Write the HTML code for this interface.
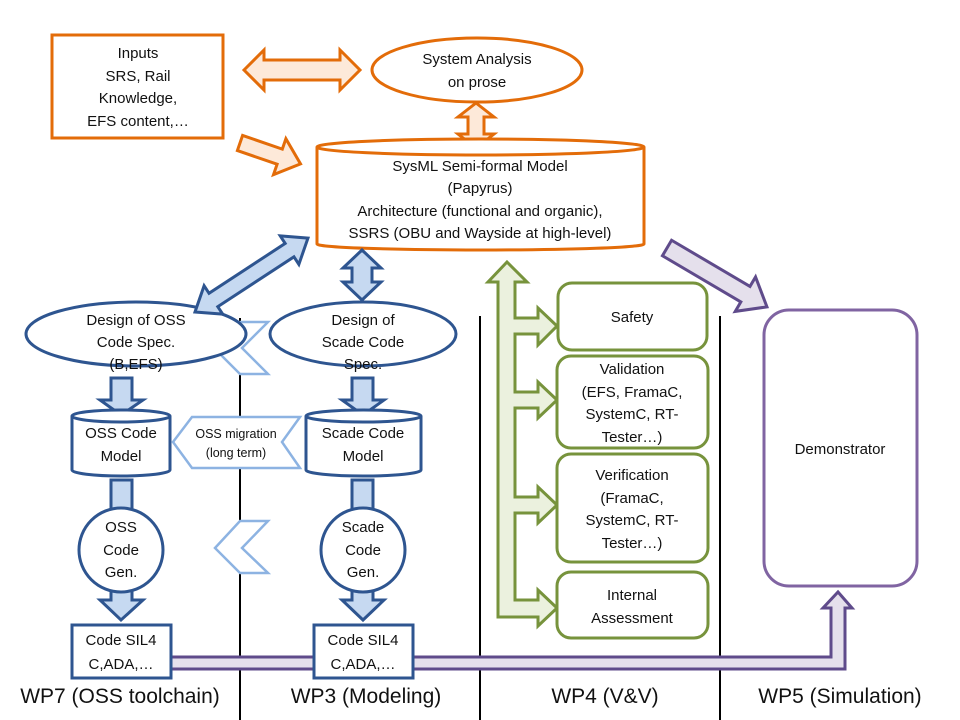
<!DOCTYPE html>
<html><head><meta charset="utf-8"><style>html,body{margin:0;padding:0;background:#fff}svg{display:block}text{font-family:"Liberation Sans",sans-serif;font-size:15px;fill:#111;text-anchor:middle}text.wp{font-size:21px}</style></head><body>
<svg width="960" height="720" viewBox="0 0 960 720" xmlns="http://www.w3.org/2000/svg">
<g stroke="#000" stroke-width="2">
<line x1="240" y1="318" x2="240" y2="720"/>
<line x1="480" y1="316" x2="480" y2="720"/>
<line x1="720" y1="316" x2="720" y2="720"/>
</g>
<polygon points="171,657 831,657 831,608 823,608 838,592 852,608 845,608 845,669 171,669" fill="#E5E0EC" stroke="#5F4B8B" stroke-width="3"/>
<polygon transform="translate(667,248) rotate(30.5)" points="0,-9 91,-9 91,-20 116,0 91,20 91,9 0,9" fill="#E5E0EC" stroke="#5F4B8B" stroke-width="3"/>
<g fill="#FDE9D9" stroke="#E36C09" stroke-width="3">
<polygon points="244,70 264,50 264,60 340,60 340,50 360,70 340,90 340,80 264,80 264,90"/>
<polygon points="476,103 494,117 484,117 484,134 494,134 476,148 458,134 468,134 468,117 458,117"/>
<polygon transform="translate(240,143) rotate(19)" points="0,-8 42,-8 42,-19 64,0 42,19 42,8 0,8"/>
</g>
<rect x="52" y="35" width="171" height="103" fill="#fff" stroke="#E36C09" stroke-width="3"/>
<text x="138" y="58">Inputs</text><text x="138" y="81">SRS, Rail</text><text x="138" y="103">Knowledge,</text><text x="138" y="126">EFS content,…</text>
<ellipse cx="477" cy="70" rx="105" ry="32" fill="#fff" stroke="#E36C09" stroke-width="3"/>
<text x="477" y="64">System Analysis</text><text x="477" y="87">on prose</text>
<path d="M317,147 A163.5,8 0 0 1 644,147 L644,244 A163.5,6 0 0 1 317,244 Z" fill="#fff" stroke="#E36C09" stroke-width="3"/>
<path d="M317,147 A163.5,8 0 0 0 644,147" fill="none" stroke="#E36C09" stroke-width="3"/>
<text x="480" y="171">SysML Semi-formal Model</text><text x="480" y="193">(Papyrus)</text><text x="480" y="216">Architecture (functional and organic),</text><text x="480" y="238">SSRS (OBU and Wayside at high-level)</text>
<g fill="#fff" stroke="#8DB3E2" stroke-width="2.5">
<polygon points="268,322 242,348 268,374 240,374 214,348 240,322"/>
<polygon points="268,521 242,548 268,573 240,573 215,548 240,521"/>
<polygon points="300,417 282,442 300,468 192,468 173,442 192,417"/>
</g>
<text x="236" y="438" style="font-size:12.5px">OSS migration</text><text x="236" y="457" style="font-size:12.5px">(long term)</text>
<g fill="#fff" stroke="#2E5590" stroke-width="3">
<ellipse cx="136" cy="334" rx="110" ry="32"/>
<ellipse cx="363" cy="334" rx="93" ry="32"/>
</g>
<g fill="#C6D9F1" stroke="#2E5590" stroke-width="3">
<polygon transform="translate(195,312) rotate(-33.2)" points="0,0 22,-17 22,-8 113,-8 113,-17 135,0 113,17 113,8 22,8 22,17"/>
<polygon points="362,250 381,268 372,268 372,282 381,282 362,300 343,282 352,282 352,268 343,268"/>
<polygon points="111,378 132,378 132,400 143,400 121,415 100,400 111,400"/>
<polygon points="352,378 373,378 373,400 384,400 363,415 342,400 352,400"/>
<rect x="111" y="480" width="21" height="30"/>
<rect x="352" y="480" width="21" height="30"/>
<polygon points="111,588 132,588 132,600 143,600 121,620 100,600 111,600"/>
<polygon points="352,588 373,588 373,600 384,600 363,620 342,600 352,600"/>
</g>
<g fill="#fff" stroke="#2E5590" stroke-width="3">
<path d="M72,416 A49,6 0 0 1 170,416 L170,470 A49,6 0 0 1 72,470 Z"/>
<path d="M72,416 A49,6 0 0 0 170,416" fill="none"/>
<path d="M306,416 A57.5,6 0 0 1 421,416 L421,470 A57.5,6 0 0 1 306,470 Z"/>
<path d="M306,416 A57.5,6 0 0 0 421,416" fill="none"/>
<circle cx="121" cy="550" r="42"/>
<circle cx="363" cy="550" r="42"/>
<rect x="72" y="625" width="99" height="53"/>
<rect x="314" y="625" width="99" height="53"/>
</g>
<text x="136" y="325">Design of OSS</text><text x="136" y="347">Code Spec.</text><text x="136" y="369">(B,EFS)</text>
<text x="363" y="325">Design of</text><text x="363" y="347">Scade Code</text><text x="363" y="369">Spec.</text>
<text x="121" y="438">OSS Code</text><text x="121" y="461">Model</text>
<text x="363" y="438">Scade Code</text><text x="363" y="461">Model</text>
<text x="121" y="532">OSS</text><text x="121" y="555">Code</text><text x="121" y="577">Gen.</text>
<text x="363" y="532">Scade</text><text x="363" y="555">Code</text><text x="363" y="577">Gen.</text>
<text x="121" y="645">Code SIL4</text><text x="121" y="669">C,ADA,…</text>
<text x="363" y="645">Code SIL4</text><text x="363" y="669">C,ADA,…</text>
<polygon points="507,262 527,282 515,282 515,318 538,318 538,308 557,326 538,345 538,334 515,334 515,392 538,392 538,382 557,400 538,418 538,408 515,408 515,497 538,497 538,487 557,505 538,523 538,513 515,513 515,600 538,600 538,590 557,608 538,626 538,617 498,617 498,282 488,282" fill="#EBF1DE" stroke="#77933C" stroke-width="3"/>
<g fill="#fff" stroke="#77933C" stroke-width="3">
<rect x="558" y="283" width="149" height="67" rx="14"/>
<rect x="557" y="356" width="151" height="92" rx="14"/>
<rect x="557" y="454" width="151" height="108" rx="14"/>
<rect x="557" y="572" width="151" height="66" rx="14"/>
</g>
<text x="632" y="322">Safety</text>
<text x="632" y="374">Validation</text><text x="632" y="397">(EFS, FramaC,</text><text x="632" y="419">SystemC, RT-</text><text x="632" y="442">Tester…)</text>
<text x="632" y="480">Verification</text><text x="632" y="503">(FramaC,</text><text x="632" y="525">SystemC, RT-</text><text x="632" y="548">Tester…)</text>
<text x="632" y="600">Internal</text><text x="632" y="623">Assessment</text>
<rect x="764" y="310" width="153" height="276" rx="25" fill="#fff" stroke="#8064A2" stroke-width="3"/>
<text x="840" y="454">Demonstrator</text>
<text class="wp" x="120" y="703">WP7 (OSS toolchain)</text>
<text class="wp" x="366" y="703">WP3 (Modeling)</text>
<text class="wp" x="605" y="703">WP4 (V&amp;V)</text>
<text class="wp" x="840" y="703">WP5 (Simulation)</text>
</svg>
</body></html>
